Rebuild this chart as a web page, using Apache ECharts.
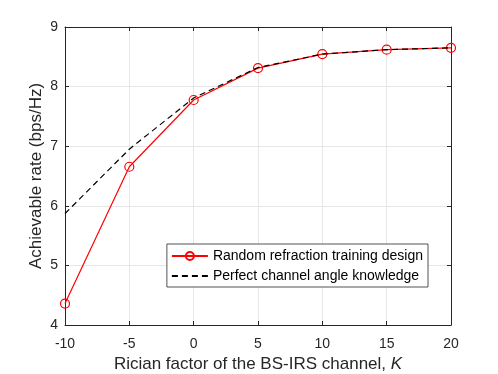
<!DOCTYPE html>
<html>
<head>
<meta charset="utf-8">
<script src="https://cdn.jsdelivr.net/npm/echarts@6/dist/echarts.min.js"></script>
<style>
  html, body { margin: 0; padding: 0; background: #fff; }
  #main { width: 498px; height: 374px; }
</style>
</head>
<body>
<div id="main"></div>
<script>
// data
var kValues = [-10, -5, 0, 5, 10, 15, 20];
var randomTraining = [4.36, 6.655, 7.775, 8.31, 8.545, 8.62, 8.65];
var perfectAngle = [5.87, 6.95, 7.81, 8.32, 8.545, 8.62, 8.65];
var legendNames = ['Random refraction training design', 'Perfect channel angle knowledge'];

var chart = echarts.init(document.getElementById('main'));

function pairs(xs, ys) {
    return xs.map(function (x, i) { return [x, ys[i]]; });
}

var fontFam = 'Liberation Sans, Arial, sans-serif';
var axisColor = '#262626';

var option = {
    animation: false,
    grid: { left: 65, top: 27, right: 47, bottom: 49, outerBoundsMode: 'none', containLabel: false },
    legend: {
        right: 70,
        top: 244,
        orient: 'vertical',
        backgroundColor: '#fff',
        borderColor: '#262626',
        borderWidth: 0.8,
        padding: [5, 5, 4, 4],
        itemGap: 6,
        itemWidth: 36,
        itemHeight: 10,
        textStyle: { fontFamily: fontFam, fontSize: 14, color: '#000' },
        data: [
            { name: legendNames[0] },
            { name: legendNames[1], itemStyle: { opacity: 0 } }
        ]
    },
    xAxis: [{
        type: 'value',
        min: -10, max: 20, interval: 5,
        name: '{n|Rician factor of the BS-IRS channel, }{k|K}',
        nameLocation: 'middle',
        nameGap: 31,
        nameTextStyle: {
            rich: {
                n: { fontFamily: fontFam, fontSize: 17, color: '#262626' },
                k: { fontFamily: fontFam, fontSize: 17, color: '#262626', fontStyle: 'italic' }
            }
        },
        axisLine: { onZero: false, lineStyle: { color: axisColor, width: 1 } },
        axisTick: { inside: true, length: 4, lineStyle: { color: axisColor } },
        axisLabel: { fontFamily: fontFam, fontSize: 14, color: '#262626', margin: 12 },
        splitLine: { lineStyle: { color: '#e6e6e6' } }
    }, {
        type: 'value', position: 'top',
        min: -10, max: 20, interval: 5,
        axisLine: { show: true, onZero: false, lineStyle: { color: axisColor } },
        axisTick: { inside: true, length: 4, lineStyle: { color: axisColor } },
        axisLabel: { show: false },
        splitLine: { show: false }
    }],
    yAxis: [{
        type: 'value',
        min: 4, max: 9, interval: 1,
        name: 'Achievable rate (bps/Hz)',
        nameLocation: 'middle',
        nameMoveOverlap: false,
        nameGap: 20,
        nameTextStyle: { fontFamily: fontFam, fontSize: 17, color: '#262626' },
        axisLine: { show: true, onZero: false, lineStyle: { color: axisColor } },
        axisTick: { show: true, inside: true, length: 4, lineStyle: { color: axisColor } },
        axisLabel: { fontFamily: fontFam, fontSize: 14, color: '#262626', margin: 7 },
        splitLine: { lineStyle: { color: '#e6e6e6' } }
    }, {
        type: 'value', position: 'right',
        min: 4, max: 9, interval: 1,
        axisLine: { show: true, onZero: false, lineStyle: { color: axisColor } },
        axisTick: { show: true, inside: true, length: 4, lineStyle: { color: axisColor } },
        axisLabel: { show: false },
        splitLine: { show: false }
    }],
    series: [{
        name: legendNames[0],
        type: 'line',
        data: pairs(kValues, randomTraining),
        symbol: 'circle',
        symbolSize: 9,
        lineStyle: { color: '#ff0000', width: 1.2 },
        itemStyle: { color: 'rgba(255,255,255,0)', borderColor: '#ff0000', borderWidth: 1.2 },
        z: 2
    }, {
        name: legendNames[1],
        type: 'line',
        data: pairs(kValues, perfectAngle),
        showSymbol: false,
        symbol: 'none',
        lineStyle: { color: '#000', width: 1.2, type: [6, 4] },
        itemStyle: { color: '#000' },
        z: 3
    }]
};

chart.setOption(option);
</script>
</body>
</html>
